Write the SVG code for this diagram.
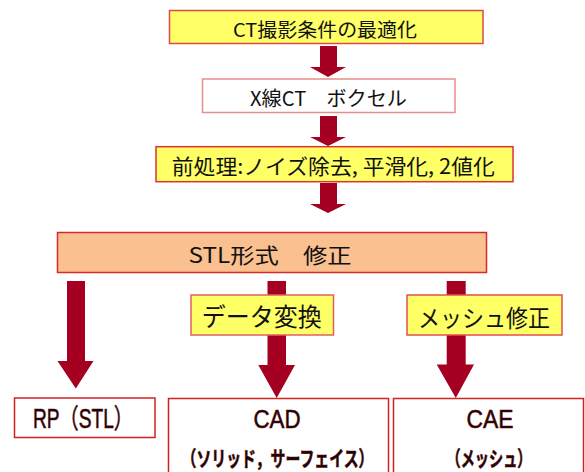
<svg xmlns="http://www.w3.org/2000/svg" width="585" height="472" viewBox="0 0 585 472">
<defs>
<style>
.jp{font-family:"Noto Sans CJK JP","Noto Sans",sans-serif;fill:#111;text-anchor:middle;dominant-baseline:central}
.lat{font-family:"Liberation Sans","Noto Sans CJK JP",sans-serif;fill:#1a0505;stroke:#5a0a0a;stroke-width:0.6;text-anchor:middle}
.arr{fill:#A50021}
.yel{fill:#FFFF66;stroke-width:1.5}
.out{fill:#FFFFFF;stroke:#D42222;stroke-width:1.5}
</style>
</defs>
<rect width="585" height="472" fill="#FFFFFF"/>
<g id="connectors">
<path class="arr" d="M320,46 H337 V67 H346 L328,77 L310,67 H320 Z"/>
<path class="arr" d="M320,116 H337 V137 H346 L328,146 L310,137 H320 Z"/>
<path class="arr" d="M320,183 H337 V204 H346 L328,213 L310,204 H320 Z"/>
<path class="arr" d="M67,281 H85 V361 H93.5 L75.8,388.5 L57.5,361 H67 Z"/>
<path class="arr" d="M267.5,281 H286 V365 H295 L276.7,398 L258.3,365 H267.5 Z"/>
<path class="arr" d="M446.7,281 H465.7 V364.5 H474 L455.8,398 L436.7,364.5 H446.7 Z"/>
</g>
<g id="node-ct-opt">
<rect class="yel" x="169.5" y="10.5" width="313.5" height="33" stroke="#E04848"/>
<text class="jp" x="325" y="28" font-size="19" textLength="184" lengthAdjust="spacingAndGlyphs">CT撮影条件の最適化</text>
</g>
<g id="node-xray">
<rect x="202.5" y="79" width="252.5" height="33.5" fill="#FFFFFF" stroke="#E88C8C" stroke-width="1.5"/>
<text class="jp" x="328.5" y="97" font-size="20" textLength="157" lengthAdjust="spacingAndGlyphs">X線CT　ボクセル</text>
</g>
<g id="node-preprocess">
<rect class="yel" x="156" y="146.7" width="357" height="35" stroke="#E03030"/>
<text class="jp" x="333.3" y="165" font-size="21" textLength="323" lengthAdjust="spacingAndGlyphs">前処理:ノイズ除去, 平滑化, 2値化</text>
</g>
<g id="node-stl">
<rect x="57.5" y="232.5" width="429" height="40" fill="#FAC090" stroke="#D82828" stroke-width="1.5"/>
<text class="jp" x="270" y="254" font-size="21" textLength="163" lengthAdjust="spacingAndGlyphs">STL形式　修正</text>
</g>
<g id="node-data">
<rect class="yel" x="191" y="295" width="142.5" height="40" stroke="#E06060"/>
<text class="jp" x="261.7" y="315" font-size="25" textLength="120" lengthAdjust="spacingAndGlyphs">データ変換</text>
</g>
<g id="node-mesh">
<rect class="yel" x="407" y="295" width="155" height="40" stroke="#E05050"/>
<text class="jp" x="484" y="316" font-size="24" textLength="132" lengthAdjust="spacingAndGlyphs">メッシュ修正</text>
</g>
<g id="node-rp">
<rect class="out" x="14.5" y="398" width="140.5" height="39.5"/>
<text class="lat" x="83" y="428" font-size="27" textLength="100" lengthAdjust="spacingAndGlyphs">RP（STL）</text>
</g>
<g id="node-cad">
<rect class="out" x="168.5" y="398.5" width="220" height="80"/>
<text class="lat" x="277" y="428" font-size="26" textLength="47" lengthAdjust="spacingAndGlyphs">CAD</text>
<text class="lat" x="277.5" y="466" font-size="21" font-weight="bold" textLength="192" lengthAdjust="spacingAndGlyphs">（ソリッド，サーフェイス）</text>
</g>
<g id="node-cae">
<rect class="out" x="393.5" y="398.5" width="190" height="80"/>
<text class="lat" x="490" y="428" font-size="26" textLength="47" lengthAdjust="spacingAndGlyphs">CAE</text>
<text class="lat" x="489" y="466" font-size="21" font-weight="bold" textLength="85" lengthAdjust="spacingAndGlyphs">（メッシュ）</text>
</g>
</svg>
